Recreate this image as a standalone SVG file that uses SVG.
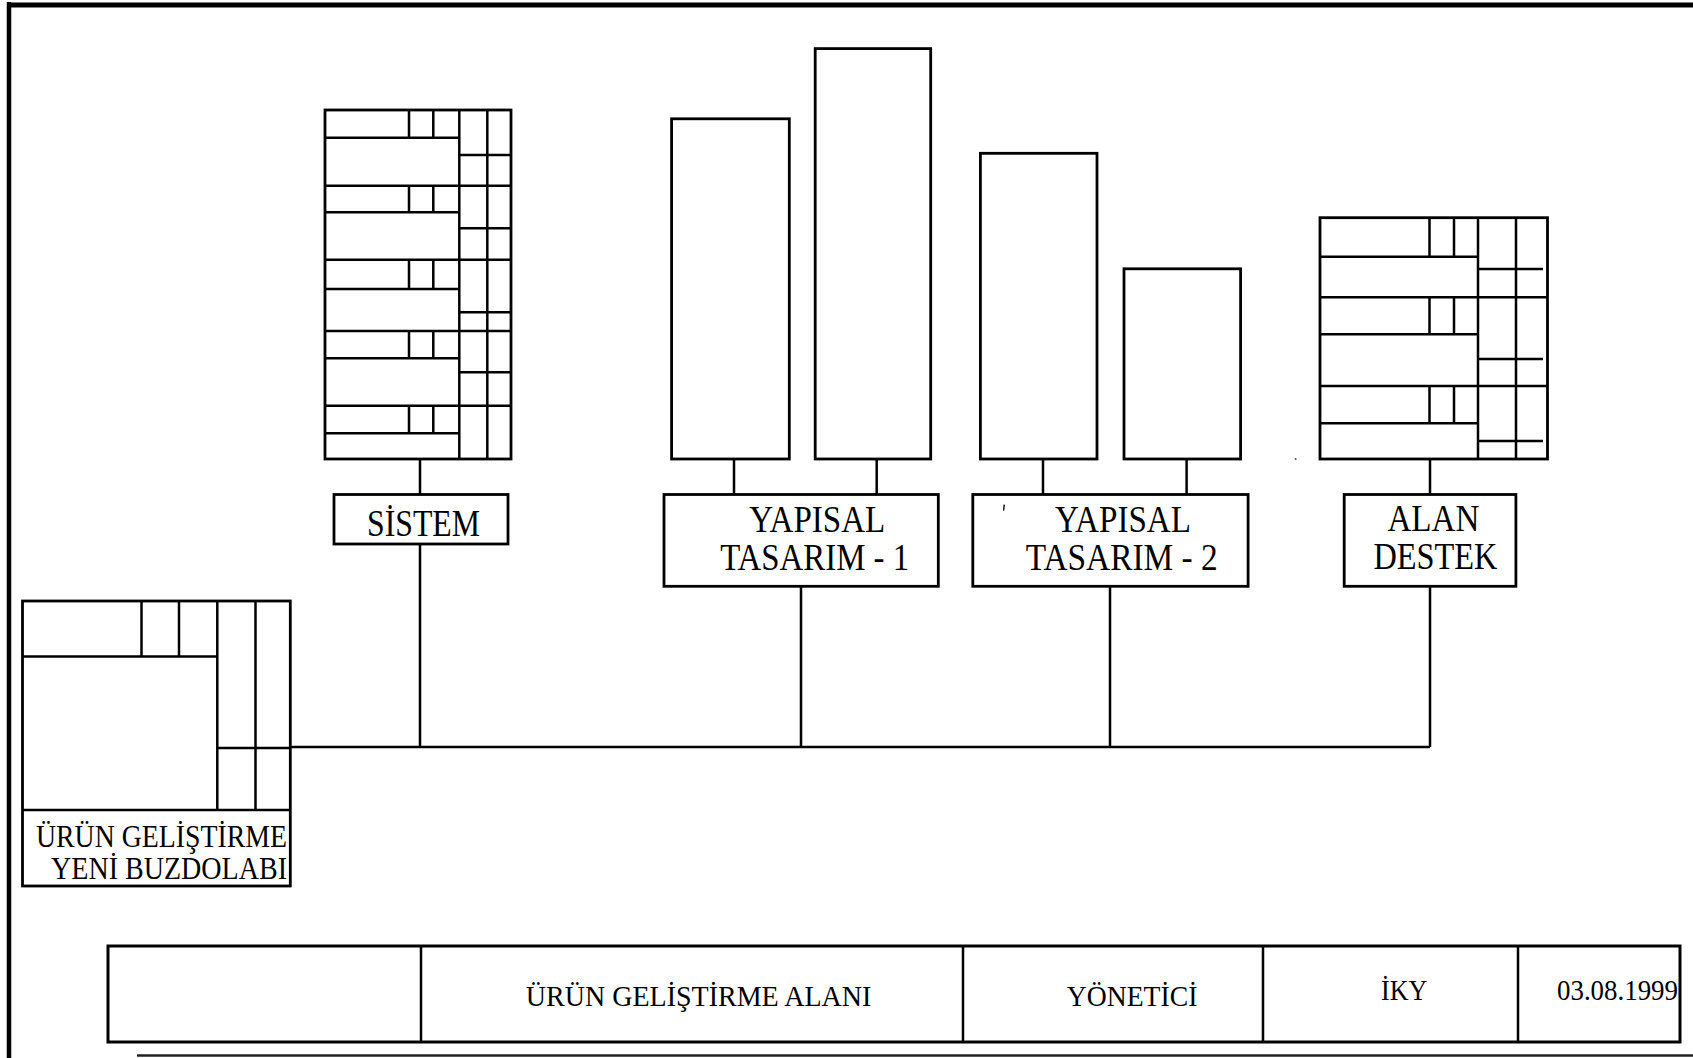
<svg xmlns="http://www.w3.org/2000/svg" width="1693" height="1058" viewBox="0 0 1693 1058">
<style>
.ln{stroke:#000;stroke-width:2.5;fill:none}
.bx{fill:#fff;stroke:#000;stroke-width:2.8}
.t{font-family:"Liberation Serif","Times New Roman",serif;fill:#000}
.big{font-size:37px}
.mid{font-size:31px}
.sm{font-size:29px}
</style>
<rect width="1693" height="1058" fill="#fff"/>
<g id="page-frame">
<line x1="9" y1="2" x2="9" y2="1058" stroke="#000" stroke-width="4.5"/>
<line x1="7" y1="5" x2="1693" y2="5" stroke="#000" stroke-width="5"/>
<line x1="137" y1="1055.5" x2="1693" y2="1055.5" stroke="#222" stroke-width="2.5"/>
</g>
<g id="connectors">
<path class="ln" d="M420 459V494.5M420 544V747M734 459V494.5M876.7 459V494.5M801 586.3V747M1043 459V494.5M1186.6 459V494.5M1110 586.3V747M1430 459V494.5M1430 586.3V747M290.3 747H1430"/>
</g>
<g id="node-urun-gelistirme">
<rect class="bx" x="22.5" y="601" width="267.8" height="285"/>
<path class="ln" d="M22.5 656.6H217.3M141.5 601V656.6M179 601V656.6M217.3 601V810M255.5 601V810M217.3 748H290.3M22.5 810H290.3"/>
<text class="t mid" x="36" y="847" textLength="251" lengthAdjust="spacingAndGlyphs">ÜRÜN GELİŞTİRME</text>
<text class="t mid" x="51" y="879" textLength="236" lengthAdjust="spacingAndGlyphs">YENİ BUZDOLABI</text>
</g>
<g id="node-sistem-rack">
<rect class="bx" x="325" y="110" width="186" height="349"/>
<path class="ln" d="M459.3 110V459M487.3 110V459
M325 137.7H459.3M325 212.3H459.3M325 289H459.3M325 358.3H459.3M325 433.3H459.3
M325 185.7H511M325 259.7H511M325 331H511M325 405.7H511
M459.3 155H511M459.3 228.3H511M459.3 312.3H511M459.3 372.3H511
M409 110V137.7M433.3 110V137.7M409 185.7V212.3M433.3 185.7V212.3M409 259.7V289M433.3 259.7V289M409 331V358.3M433.3 331V358.3M409 405.7V433.3M433.3 405.7V433.3"/>
</g>
<g id="node-sistem">
<rect class="bx" x="334" y="494.5" width="174" height="49.5"/>
<text class="t big" x="367" y="535.5" textLength="113" lengthAdjust="spacingAndGlyphs">SİSTEM</text>
</g>
<g id="node-yt1-unit-a"><rect class="bx" x="671.6" y="118.8" width="117.7" height="340.2"/></g>
<g id="node-yt1-unit-b"><rect class="bx" x="815.2" y="48.6" width="115.5" height="410.4"/></g>
<g id="node-yapisal-tasarim-1">
<rect class="bx" x="664" y="494.5" width="274.3" height="91.8"/>
<text class="t big" x="749.3" y="532" textLength="136" lengthAdjust="spacingAndGlyphs">YAPISAL</text>
<text class="t big" x="720.2" y="570" textLength="189" lengthAdjust="spacingAndGlyphs">TASARIM - 1</text>
</g>
<g id="node-yt2-unit-a"><rect class="bx" x="980.4" y="153.3" width="116.6" height="305.7"/></g>
<g id="node-yt2-unit-b"><rect class="bx" x="1124" y="268.8" width="116.6" height="190.2"/></g>
<g id="node-yapisal-tasarim-2">
<rect class="bx" x="972.8" y="494.5" width="275.3" height="91.8"/>
<path d="M1003.5 504.5l1.5 0.3-0.8 6-1.2-0.2z" fill="#000"/>
<text class="t big" x="1054.9" y="532" textLength="136" lengthAdjust="spacingAndGlyphs">YAPISAL</text>
<text class="t big" x="1025.7" y="570" textLength="192" lengthAdjust="spacingAndGlyphs">TASARIM - 2</text>
</g>
<g id="node-alan-destek-rack">
<rect class="bx" x="1320" y="217.7" width="227.5" height="241.3"/>
<path class="ln" d="M1478 217.7V459M1516 217.7V459
M1320 256.7H1478M1320 334.3H1478M1320 423.3H1478
M1320 297.3H1547.5M1320 386H1547.5
M1478 269H1543M1478 359H1543M1478 441H1543
M1429.5 217.7V256.7M1454 217.7V256.7M1429.5 297.3V334.3M1454 297.3V334.3M1429.5 386V423.3M1454 386V423.3"/>
</g>
<g id="node-alan-destek">
<rect class="bx" x="1344.2" y="494.5" width="171.7" height="91.8"/>
<text class="t big" x="1387.4" y="531" textLength="92" lengthAdjust="spacingAndGlyphs">ALAN</text>
<text class="t big" x="1373.4" y="569" textLength="124" lengthAdjust="spacingAndGlyphs">DESTEK</text>
</g>
<circle cx="1295.6" cy="459" r="1" fill="#555"/>
<g id="title-block">
<rect x="108" y="946" width="1572" height="96" fill="none" stroke="#000" stroke-width="3"/>
<path class="ln" d="M421 946V1042M963 946V1042M1263 946V1042M1518 946V1042"/>
<text class="t sm" x="525.8" y="1006" textLength="345.5" lengthAdjust="spacingAndGlyphs">ÜRÜN GELİŞTİRME ALANI</text>
<text class="t sm" x="1066.7" y="1006" textLength="130.7" lengthAdjust="spacingAndGlyphs">YÖNETİCİ</text>
<text class="t sm" x="1381" y="1000" textLength="46.4" lengthAdjust="spacingAndGlyphs">İKY</text>
<text class="t sm" x="1557" y="1000" textLength="121" lengthAdjust="spacingAndGlyphs">03.08.1999</text>
</g>
</svg>
